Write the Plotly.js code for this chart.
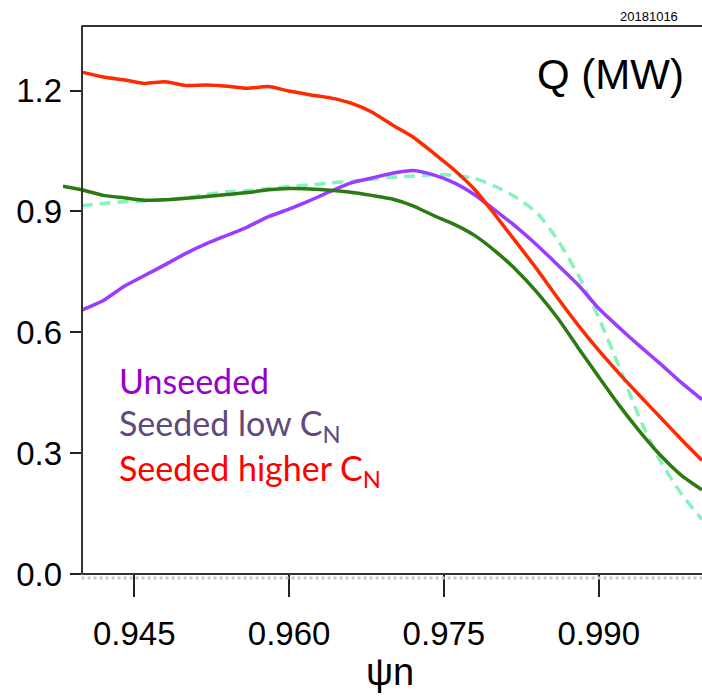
<!DOCTYPE html>
<html>
<head>
<meta charset="utf-8">
<script src="https://cdn.plot.ly/plotly-3.0.1.min.js"></script>
<style>html,body{margin:0;padding:0;background:#fff;}#chart{width:702px;height:700px;}</style>
</head>
<body>
<div id="chart"></div>
<script>
// psi_n grid
const psi = [0.9399, 0.942, 0.944, 0.946, 0.948, 0.950, 0.952, 0.954, 0.956, 0.958,
             0.960, 0.962, 0.964, 0.966, 0.968, 0.970, 0.972, 0.974, 0.976, 0.978,
             0.980, 0.982, 0.984, 0.986, 0.988, 0.990, 0.992, 0.994, 0.996, 0.998, 1.000];
const psiGreen = [0.9381, 0.9399, 0.942, 0.944, 0.946, 0.948, 0.950, 0.952, 0.954, 0.956, 0.958,
             0.960, 0.962, 0.964, 0.966, 0.968, 0.970, 0.972, 0.974, 0.976, 0.978,
             0.980, 0.982, 0.984, 0.986, 0.988, 0.990, 0.992, 0.994, 0.996, 0.998, 1.000];

const qHigher = [1.246, 1.234, 1.227, 1.218, 1.222, 1.213, 1.214, 1.211, 1.206, 1.210,
                 1.199, 1.190, 1.182, 1.169, 1.147, 1.115, 1.085, 1.045, 1.003, 0.954,
                 0.890, 0.824, 0.757, 0.686, 0.618, 0.555, 0.497, 0.442, 0.388, 0.334, 0.282];
const qUnseeded = [0.655, 0.679, 0.714, 0.741, 0.768, 0.796, 0.820, 0.841, 0.862, 0.887,
                   0.906, 0.927, 0.950, 0.971, 0.983, 0.995, 1.002, 0.991, 0.971, 0.941,
                   0.902, 0.862, 0.817, 0.768, 0.718, 0.659, 0.611, 0.565, 0.521, 0.475, 0.433];
const qDashed = [0.914, 0.920, 0.924, 0.926, 0.930, 0.934, 0.942, 0.949, 0.952, 0.957,
                 0.962, 0.966, 0.971, 0.975, 0.980, 0.985, 0.988, 0.991, 0.990, 0.982,
                 0.962, 0.935, 0.897, 0.830, 0.743, 0.636, 0.513, 0.384, 0.279, 0.199, 0.135];
const qGreen = [0.963, 0.954, 0.940, 0.934, 0.928, 0.929, 0.933, 0.937, 0.942, 0.947, 0.954,
                0.957, 0.956, 0.953, 0.948, 0.940, 0.931, 0.914, 0.890, 0.868, 0.840,
                0.801, 0.755, 0.700, 0.636, 0.562, 0.489, 0.418, 0.353, 0.294, 0.245, 0.209];

const yTicks = [0.0, 0.3, 0.6, 0.9, 1.2];
const yTickText = ["0.0", "0.3", "0.6", "0.9", "1.2"];
const xTicks = [0.945, 0.960, 0.975, 0.990];
const xTickText = ["0.945", "0.960", "0.975", "0.990"];

const lineW = 3.5;
const traces = [
  {x: psi, y: qDashed, mode: 'lines', line: {color: '#86f2bd', width: lineW, dash: '11px,7px', shape: 'spline', smoothing: 0.6}},
  {x: psi, y: qUnseeded, mode: 'lines', line: {color: '#9b3cff', width: lineW, shape: 'spline', smoothing: 0.6}},
  {x: psiGreen, y: qGreen, mode: 'lines', line: {color: '#2b7a12', width: lineW, shape: 'spline', smoothing: 0.6}},
  {x: psi, y: qHigher, mode: 'lines', line: {color: '#ff2a00', width: lineW, shape: 'spline', smoothing: 0.6}}
];

const axisFont = {family: 'Liberation Sans, Arial, sans-serif', size: 33, color: '#000'};
const legFont = 'Lato, Open Sans, sans-serif';
const yPos = (81.7 - 63) / 639;

const layout = {
  width: 702, height: 700,
  margin: {l: 63, r: 0, t: 26, b: 126},
  paper_bgcolor: '#fff', plot_bgcolor: '#fff',
  showlegend: false,
  xaxis: {
    range: [0.9381, 1.0], showgrid: false, zeroline: false, showline: false,
    tickmode: 'array', tickvals: xTicks, ticktext: xTickText,
    ticks: 'outside', ticklen: 22, tickwidth: 2, tickcolor: '#222',
    tickfont: axisFont, ticklabelstandoff: 8
  },
  yaxis: {
    range: [0, 1.3605], anchor: 'free', position: yPos,
    showgrid: false, zeroline: false, showline: true, linecolor: '#333', linewidth: 2,
    tickmode: 'array', tickvals: yTicks, ticktext: yTickText,
    ticks: 'outside', ticklen: 11, tickwidth: 2, tickcolor: '#222',
    tickfont: axisFont, ticklabelstandoff: 1
  },
  shapes: [
    {type: 'line', xref: 'x', yref: 'paper', x0: 0.9399, x1: 1.0, y0: 1, y1: 1, line: {color: '#333', width: 2}},
    {type: 'line', xref: 'x', yref: 'paper', x0: 0.9399, x1: 1.0, y0: -0.0075, y1: -0.0075, line: {color: '#c8c8c8', width: 3, dash: 'dot'}},
    {type: 'line', xref: 'x', yref: 'paper', x0: 0.9399, x1: 1.0, y0: 0, y1: 0, line: {color: '#333', width: 2}}
  ],
  annotations: [
    {xref: 'paper', yref: 'paper', x: (686 - 63) / 639, y: 1 - (75 - 26) / 548, xanchor: 'right', yanchor: 'middle',
     text: 'Q (MW)', showarrow: false, font: {family: 'Liberation Sans, Arial, sans-serif', size: 42, color: '#000'}},
    {xref: 'paper', yref: 'paper', x: (680 - 63) / 639, y: 1 + (26 - 16) / 548, xanchor: 'right', yanchor: 'middle',
     text: '20181016', showarrow: false, font: {family: 'Liberation Sans, Arial, sans-serif', size: 13, color: '#000'}},
    {xref: 'paper', yref: 'paper', x: (390 - 63) / 639, y: 1 - (672 - 26) / 548, xanchor: 'center', yanchor: 'middle',
     text: 'ψn', showarrow: false, font: {family: 'Liberation Sans, Arial, sans-serif', size: 38, color: '#000'}},
    {xref: 'paper', yref: 'paper', x: (117 - 63) / 639, y: 1 - (380 - 26) / 548, xanchor: 'left', yanchor: 'middle',
     text: 'Unseeded', showarrow: false, font: {family: legFont, size: 34, color: '#9900cc'}},
    {xref: 'paper', yref: 'paper', x: (117 - 63) / 639, y: 1 - (425 - 26) / 548, xanchor: 'left', yanchor: 'middle',
     text: 'Seeded low C<sub>N</sub>', showarrow: false, font: {family: legFont, size: 34, color: '#604a7b'}},
    {xref: 'paper', yref: 'paper', x: (117 - 63) / 639, y: 1 - (470 - 26) / 548, xanchor: 'left', yanchor: 'middle',
     text: 'Seeded higher C<sub>N</sub>', showarrow: false, font: {family: legFont, size: 34, color: '#ff0000'}}
  ]
};

Plotly.newPlot('chart', traces, layout, {staticPlot: true, displayModeBar: false});
</script>
</body>
</html>
